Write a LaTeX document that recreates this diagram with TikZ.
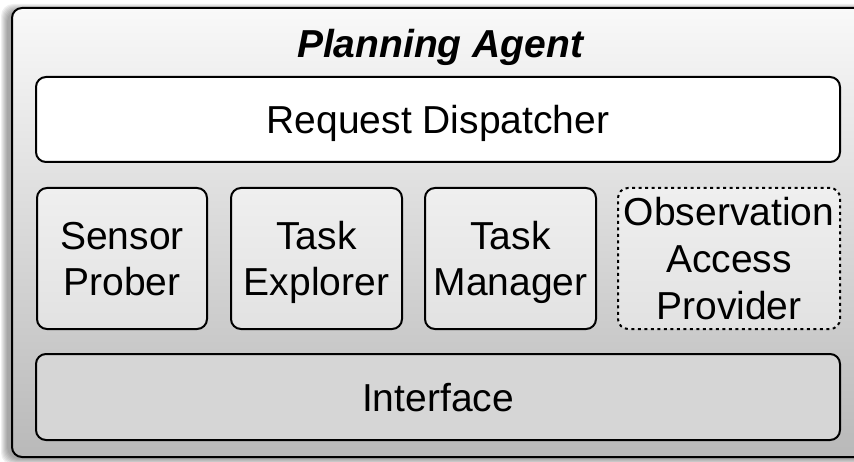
\documentclass[tikz,border=0pt]{standalone}
\usepackage{fontspec}
\setmainfont{Liberation Sans}
\definecolor{paneltop}{HTML}{F9F9F9}
\definecolor{panelbot}{HTML}{B9B9B9}
\definecolor{modtop}{HTML}{EFEFEF}
\definecolor{modbot}{HTML}{E2E2E2}
\definecolor{ifacefill}{HTML}{D6D6D6}
% one text line, with a strut that centres the capitals vertically
\newcommand{\boxline}[1]{#1\rule[-9.5pt]{0pt}{47pt}}
\begin{document}
\begin{tikzpicture}[x=1pt,y=-1pt,
  box/.style={draw=black, line width=2pt, rounded corners=10pt, inner sep=0pt,
    align=center, font=\fontsize{39}{47}\selectfont},
  module/.style={box, top color=modtop, bottom color=modbot,
    minimum width=171pt, minimum height=141pt},
  wide/.style={box, minimum width=804pt, minimum height=85pt}]
\useasboundingbox (0,0) rectangle (854,462);
\clip (0,0) rectangle (854,462);
% soft shadow behind the panel, cast to the left
\foreach \r in {0,...,6}
  \fill[black, opacity=0.06, rounded corners=12pt]
    (12-5-\r, 8+2-\r) rectangle (870+\r, 457+2+\r);
% outer panel
\node[draw=black, line width=2pt, rounded corners=10pt, inner sep=0pt,
  top color=paneltop, bottom color=panelbot,
  minimum width=858pt, minimum height=449pt] (agent) at (441,232.5) {};
\node[font=\fontsize{39}{47}\selectfont\bfseries\itshape, anchor=base]
  (title) at (440,58) {Planning Agent};
\node[wide, fill=white] (dispatch) at (438,119.5) {\boxline{Request Dispatcher}};
\node[module, minimum width=170pt] (prober) at (122,258.5)
  {\boxline{Sensor}\\\boxline{Prober}};
\node[module] (explorer) at (316.5,258.5) {\boxline{Task}\\\boxline{Explorer}};
\node[module] (manager) at (510.5,258.5) {\boxline{Task}\\\boxline{Manager}};
\node[module, minimum width=222pt, minimum height=139pt,
  dash pattern=on 3pt off 3.5pt] (obs) at (729,258.5)
  {\boxline{Observation}\\\boxline{Access}\\\boxline{Provider}};
\node[wide, fill=ifacefill, minimum height=86pt] (iface) at (438,397)
  {\boxline{Interface}};
\end{tikzpicture}
\end{document}
